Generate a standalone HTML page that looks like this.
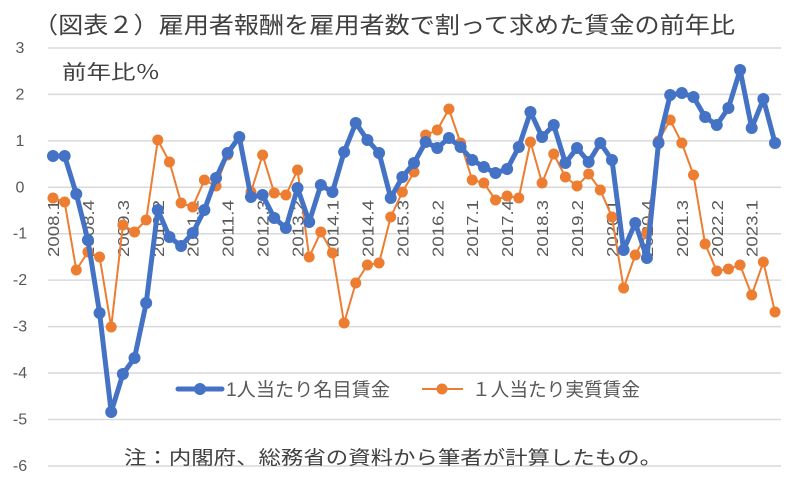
<!DOCTYPE html>
<html><head><meta charset="utf-8"><style>
html,body{margin:0;padding:0;background:#fff;}
svg{display:block;font-family:"Liberation Sans","Noto Sans CJK JP",sans-serif;}
</style></head><body>
<svg id="c" width="793" height="480" viewBox="0 0 793 480" xmlns="http://www.w3.org/2000/svg">
<rect width="793" height="480" fill="#fff"/>
<g id="grid"></g>
<g id="ylab" font-size="16" fill="#595959" text-anchor="middle"></g>
<g id="xlab" font-size="16" fill="#595959"></g>
<g id="orange"></g>
<g id="blue"></g>
<text x="33" y="33" font-size="23" fill="#404040" textLength="702" lengthAdjust="spacingAndGlyphs">（図表２）雇用者報酬を雇用者数で割って求めた賃金の前年比</text>
<text x="62" y="79" font-size="20" fill="#404040" textLength="98" lengthAdjust="spacingAndGlyphs">前年比％</text>
<line x1="178" y1="389" x2="222" y2="389" stroke="#4472C4" stroke-width="5" stroke-linecap="round"/>
<circle cx="200" cy="389" r="6" fill="#4472C4"/>
<text x="226" y="396" font-size="19" fill="#595959" textLength="164" lengthAdjust="spacingAndGlyphs">1人当たり名目賃金</text>
<line x1="422" y1="389" x2="463" y2="389" stroke="#ED7D31" stroke-width="2"/>
<circle cx="442" cy="389" r="5.5" fill="#ED7D31"/>
<text x="472" y="396" font-size="19" fill="#595959" textLength="168" lengthAdjust="spacingAndGlyphs">１人当たり実質賃金</text>
<text x="124" y="464" font-size="19" fill="#404040" textLength="538" lengthAdjust="spacingAndGlyphs">注：内閣府、総務省の資料から筆者が計算したもの。</text>
</svg>
<script>
var NS="http://www.w3.org/2000/svg";
function el(t,a,p){var e=document.createElementNS(NS,t);for(var k in a)e.setAttribute(k,a[k]);if(p)p.appendChild(e);return e;}
var y0=187.3,u=46.44;
var g=document.getElementById('grid'),yl=document.getElementById('ylab');
for(var v=3;v>=-6;v--){var y=y0-u*v;el('line',{x1:48,x2:781,y1:y,y2:y,stroke:'#d9d9d9','stroke-width':1.5},g);var t=el('text',{x:20,y:y+5},yl);t.textContent=v;}
var B=[156,156,194,240,313,412,374,358,303,210,237,246,233,210,178,153,137,197,195,218,228,188,222,185,192,152,123,140,153,198,177,163,142,148,138,147,160,167,173,169,147,112,137,125,163,148,162,143,160,250,223,258,143,95,93,97,117,125,108,70,128,99,143];
var O=[198,202,270,252,257,327,225,232,220,140,162,203,207,180,186,155,138,192,155,193,195,170,257,232,253,323,283,265,263,217,192,172,135,130,109,143,180,183,200,196,198,142,183,154,177,186,174,190,217,288,255,233,141,120,143,175,244,271,269,265,295,262,312];
var n=B.length,dx=(775-53)/(n-1);
function X(i){return 53+i*dx;}
var xl=document.getElementById('xlab');
for(var i=0;i<n;i+=3){var yr=2008+Math.floor(i/4),q=i%4+1;var x=X(i)+6;var t=el('text',{x:x,y:257,transform:'rotate(-90 '+x+' 257)',textLength:57,lengthAdjust:'spacingAndGlyphs'},xl);t.textContent=yr+'.'+q;}
function draw(d,id,c,w,r){var gg=document.getElementById(id);var p=d.map(function(y,i){return X(i).toFixed(1)+','+y;}).join(' ');
el('polyline',{points:p,fill:'none',stroke:c,'stroke-width':w,'stroke-linejoin':'round'},gg);
d.forEach(function(y,i){el('circle',{cx:X(i),cy:y,r:r,fill:c},gg);});}
draw(O,'orange','#ED7D31',2,5.5);
draw(B,'blue','#4472C4',5,6);
</script>
</body></html>
